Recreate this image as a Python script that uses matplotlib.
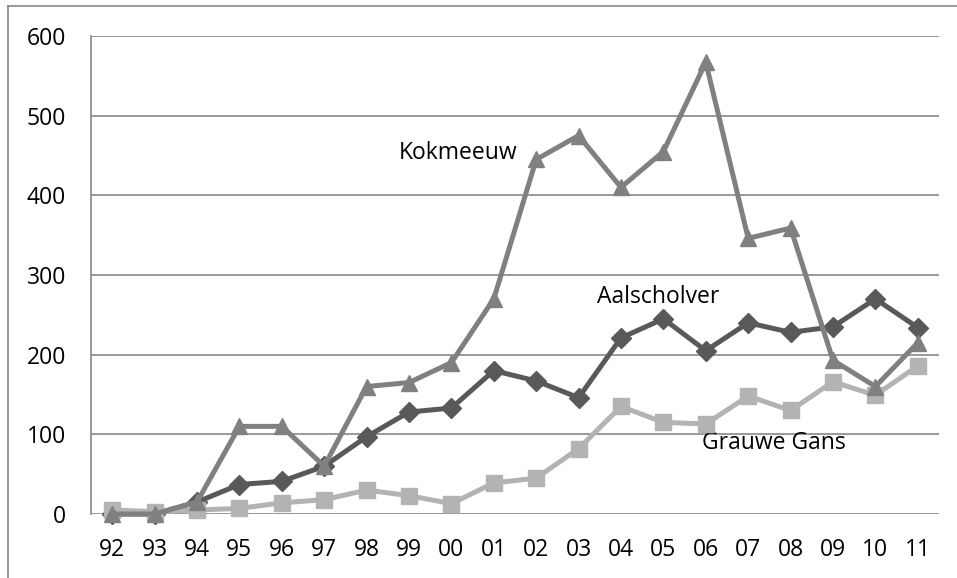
import matplotlib.pyplot as plt
from matplotlib.lines import Line2D

# Data
years = ['92', '93', '94', '95', '96', '97', '98', '99', '00', '01',
         '02', '03', '04', '05', '06', '07', '08', '09', '10', '11']
aalscholver = [0, 0, 15, 37, 41, 60, 97, 128, 133, 180,
               167, 146, 221, 245, 205, 240, 228, 235, 270, 234]
grauwe_gans = [5, 3, 5, 7, 14, 18, 30, 23, 13, 39,
               45, 82, 135, 115, 113, 148, 130, 166, 149, 186]
kokmeeuw = [0, 0, 15, 110, 110, 60, 160, 165, 190, 270,
            445, 475, 410, 455, 567, 346, 359, 193, 160, 215]

plt.rcParams['font.family'] = ['Open Sans', 'DejaVu Sans']

fig = plt.figure(figsize=(9.57, 5.78), dpi=100)
ax = fig.add_axes([91 / 957, 64 / 578, 848 / 957, 478 / 578])

x = list(range(len(years)))
ax.plot(x, aalscholver, color='#595959', lw=3.6, marker='D', ms=10,
        clip_on=False, zorder=3)
ax.plot(x, grauwe_gans, color='#b3b3b3', lw=3.6, marker='s', ms=11,
        clip_on=False, zorder=4)
ax.plot(x, kokmeeuw, color='#808080', lw=3.6, marker='^', ms=12,
        clip_on=False, zorder=5)

ax.text(6.75, 453, 'Kokmeeuw', fontsize=16.5, ha='left', va='center')
ax.text(11.44, 272, 'Aalscholver', fontsize=16.5, ha='left', va='center')
ax.text(13.9, 89, 'Grauwe Gans', fontsize=16.5, ha='left', va='center')

ax.set_xlim(-0.5, len(years) - 0.5)
ax.set_ylim(0, 600)
ax.set_yticks(range(0, 601, 100))
ax.set_xticks(x)
ax.set_xticklabels(years)
ax.tick_params(length=0, labelsize=16.5)
ax.tick_params(axis='x', pad=17)
ax.tick_params(axis='y', pad=18)
ax.yaxis.grid(True, color='#878787', lw=1.2)
ax.set_axisbelow(True)
for side in ['top', 'right', 'bottom']:
    ax.spines[side].set_visible(False)
ax.spines['left'].set_color('#878787')
ax.spines['left'].set_linewidth(1.2)

# outer chart frame (left and top edges)
fig.add_artist(Line2D([8 / 957, 8 / 957], [0, 1 - 6 / 578], color='#878787', lw=1.2))
fig.add_artist(Line2D([8 / 957, 1], [1 - 6 / 578, 1 - 6 / 578], color='#878787', lw=1.2))

fig.savefig('out.png', dpi=100)
